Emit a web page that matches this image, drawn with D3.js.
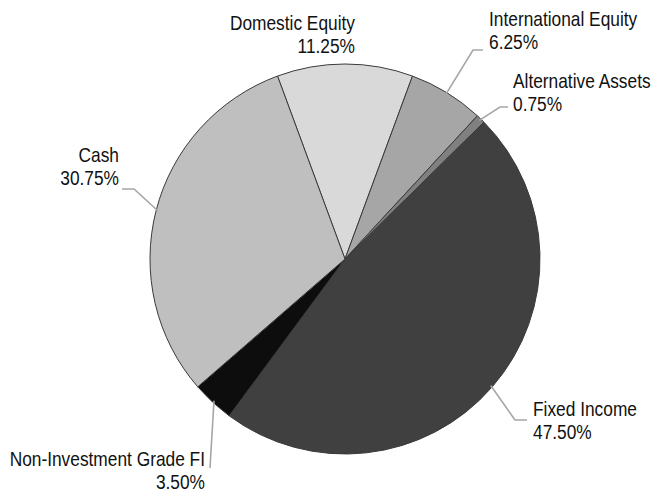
<!DOCTYPE html>
<html>
<head>
<meta charset="utf-8">
<script src="https://cdn.jsdelivr.net/npm/d3@7"></script>
<style>
  body { margin: 0; background: #fff; }
  svg text { font-family: "Liberation Sans", Arial, sans-serif; font-size: 20.5px; fill: #111; }
</style>
</head>
<body>
<svg id="pie" width="657" height="498"></svg>
<script>
// Données du graphique (sens horaire, en partant de Domestic Equity)
const categories = ['Domestic Equity', 'International Equity', 'Alternative Assets', 'Fixed Income', 'Non-Investment Grade FI', 'Cash'];
const values = [11.25, 6.25, 0.75, 47.50, 3.50, 30.75];
const valueLabels = ['11.25%', '6.25%', '0.75%', '47.50%', '3.50%', '30.75%'];
const colors = ['#d9d9d9', '#a6a6a6', '#808080', '#404040', '#0d0d0d', '#bfbfbf'];

// Placement des étiquettes (x, y de la 1re ligne, alignement, coude du trait)
const labelLayout = [
    { x: 355, y: 30, anchor: 'end', line: null },
    { x: 489, y: 26, anchor: 'start', line: [[473, 50], [483, 50]] },
    { x: 513, y: 88, anchor: 'start', line: [[500, 107], [508, 107]] },
    { x: 533, y: 416, anchor: 'start', line: [[515, 420], [527, 420]] },
    { x: 205, y: 466, anchor: 'end', line: [[210, 468]] },
    { x: 119, y: 162, anchor: 'end', line: [[134, 189], [122, 189]] }
];

const cx = 345, cy = 259, radius = 195;
const startDeg = -20.25;
const narrow = 0.845; // police étroite simulée

const svg = d3.select('#pie');
const g = svg.append('g').attr('transform', `translate(${cx},${cy})`);

const pie = d3.pie()
    .sort(null)
    .value(d => d.value)
    .startAngle(startDeg * Math.PI / 180)
    .endAngle((startDeg + 360) * Math.PI / 180);

const data = categories.map((c, i) => ({ name: c, value: values[i], label: valueLabels[i], color: colors[i], layout: labelLayout[i] }));
const arcs = pie(data);

const arc = d3.arc().innerRadius(0).outerRadius(radius);

g.selectAll('path.slice')
    .data(arcs)
    .enter()
    .append('path')
    .attr('class', 'slice')
    .attr('d', arc)
    .attr('fill', d => d.data.color)
    .attr('stroke', '#3a3a3a')
    .attr('stroke-width', 1)
    .attr('stroke-linejoin', 'round');

// Traits de rappel
const edgeArc = d3.arc().innerRadius(radius - 2).outerRadius(radius - 2);
arcs.forEach(function (d) {
    const lay = d.data.layout;
    if (!lay.line) return;
    const c = edgeArc.centroid(d);
    const pts = [[c[0] + cx, c[1] + cy]].concat(lay.line);
    svg.append('path')
        .attr('d', d3.line()(pts))
        .attr('fill', 'none')
        .attr('stroke', '#a6a6a6')
        .attr('stroke-width', 1.6);
});

// Étiquettes
arcs.forEach(function (d) {
    const lay = d.data.layout;
    const t = svg.append('text')
        .attr('transform', `translate(${lay.x},${lay.y}) scale(${narrow},1)`)
        .attr('text-anchor', lay.anchor);
    t.append('tspan').attr('x', 0).attr('y', 0).text(d.data.name);
    t.append('tspan').attr('x', 0).attr('y', 23.5).text(d.data.label);
});
</script>
</body>
</html>
